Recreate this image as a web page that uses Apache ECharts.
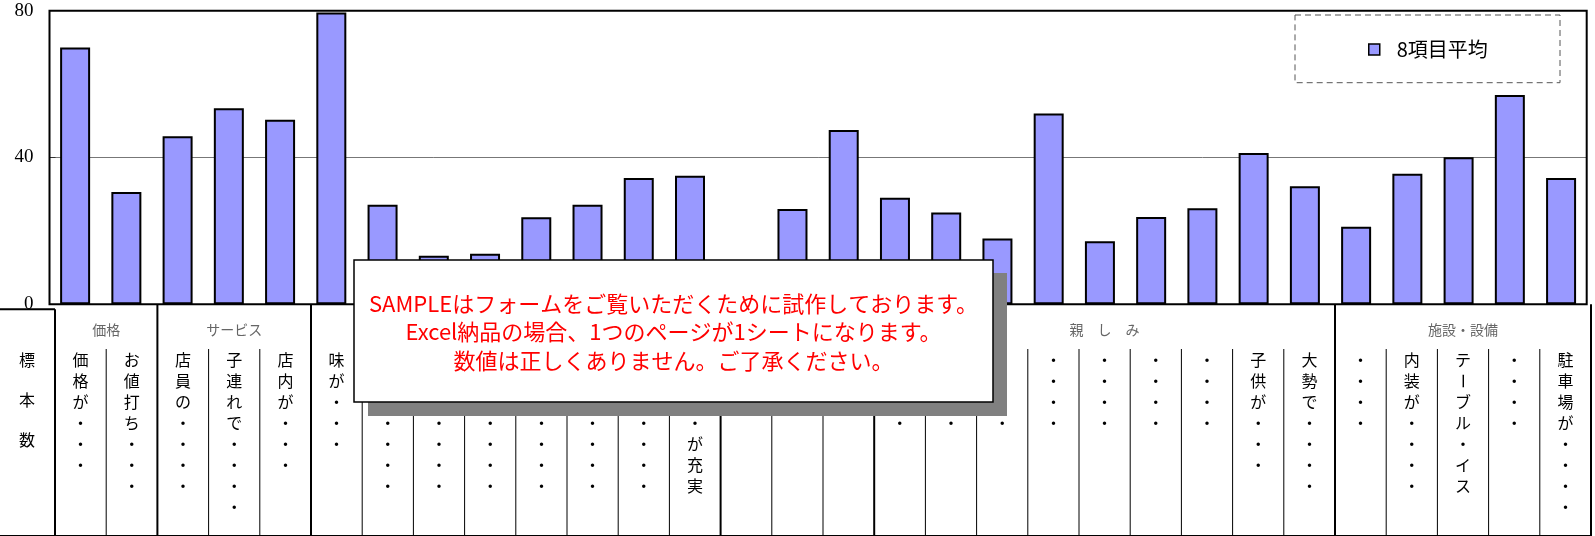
<!DOCTYPE html>
<html>
<head>
<meta charset="utf-8">
<script src="https://cdn.jsdelivr.net/npm/echarts@6/dist/echarts.min.js"></script>
<style>
html,body{margin:0;padding:0;background:#fff;}
#main{width:1595px;height:536px;}
</style>
</head>
<body>
<div id="main"></div>
<script>
// ---- data ----
const seriesName = '8項目平均';
const categories = [
  '価格が・・・', 'お値打ち・・・',
  '店員の・・・・', '子連れで・・・・', '店内が・・・',
  '味が・・・', '料理が・・・・', '品数が・・・・', '量が・・・・・', '鮮度が・・・・', '提供が・・・・', '飲物が・・・・', '飲み物・が充実',
  '雰囲気', '清潔感', '安心感',
  '・・・・', '・・・・', '・・・・', '・・・・', '・・・・', '・・・・', '・・・・', '子供が・・・', '大勢で・・・・',
  '・・・・', '内装が・・・・', 'テーブル・イス', '・・・・', '駐車場が・・・・'
];
const values = [
  70.0, 30.6,
  45.8, 53.4, 50.3,
  79.5, 27.1, 13.2, 13.8, 23.7, 27.1, 34.4, 35.0,
  10.0, 26.0, 47.5,
  29.0, 25.0, 17.9, 52.0, 17.2, 23.8, 26.2, 41.2, 32.2,
  21.1, 35.6, 40.1, 57.0, 34.4
];
const groupNames = ['価格', 'サービス', '料理・メニュー', '雰囲気', '親　し　み', '施設・設備'];
const groupSpans = [2, 3, 8, 3, 9, 5];
const yTicks = [0, 40, 80];
const sampleHeader = '標本数';
const noticeLines = [
  'SAMPLEはフォームをご覧いただくために試作しております。',
  'Excel納品の場合、1つのページが1シートになります。',
  '数値は正しくありません。ご了承ください。'
];

// ---- layout ----
const JP = '"Noto Sans CJK JP", "Noto Sans", sans-serif';
const tableLeft = 55, tableRight = 1591;
const colW = (tableRight - tableLeft) / categories.length;
const plotBottom = 304.3, tableTop = 309.3, subTop = 349, tableBottom = 535.5;

const graphics = [];
function line(x1, y1, x2, y2, w, color) {
  graphics.push({type: 'line', z: 50, shape: {x1, y1, x2, y2}, style: {stroke: color || '#000', lineWidth: w}});
}
function txt(x, y, text, size, color, extra) {
  graphics.push(Object.assign({
    type: 'text', z: 50, x: x, y: y,
    style: {x: 0, y: 0, text: text, font: size + 'px ' + JP, fill: color || '#000', align: 'center', verticalAlign: 'middle'}
  }, extra || {}));
}

// table frame
line(0, tableTop, tableLeft, tableTop, 2);
line(tableLeft, tableTop, tableLeft, 536, 2);
line(0, tableBottom, tableRight, tableBottom, 1.2);
const boundaries = new Set();
let cum = 0;
groupSpans.forEach((s, gi) => {
  const start = cum;
  cum += s;
  boundaries.add(cum);
  const x = tableLeft + cum * colW;
  line(x, plotBottom, x, 536, 2);
  txt(tableLeft + (start + s / 2) * colW, 330, groupNames[gi], 14, '#666');
});
for (let k = 1; k < categories.length; k++) {
  if (boundaries.has(k)) continue;
  const x = tableLeft + k * colW;
  line(x, subTop, x, 536, 1);
}
// header cell
[...sampleHeader].forEach((ch, i) => txt(27, 360 + i * 40, ch, 16, '#000'));
// vertical column labels
categories.forEach((lab, ci) => {
  const cx = tableLeft + (ci + 0.5) * colW;
  [...lab].forEach((ch, i) => {
    const extra = ch === 'ー' ? {rotation: -Math.PI / 2} : null;
    txt(cx, 360 + i * 21, ch, 16, '#000', extra);
  });
});

// legend frame (dashed)
graphics.push({type: 'rect', z: 50, shape: {x: 1295, y: 15, width: 265, height: 67.7},
  style: {fill: '#fff', stroke: '#555', lineWidth: 1, lineDash: [6, 4]}});

// notice overlay with shadow
graphics.push({type: 'rect', z: 200, shape: {x: 368, y: 273, width: 639, height: 143}, style: {fill: '#808080'}});
graphics.push({type: 'rect', z: 201, shape: {x: 354, y: 260, width: 639, height: 142},
  style: {fill: '#fff', stroke: '#000', lineWidth: 1.5}});
graphics.push({type: 'text', z: 202, x: 673.5, y: 332,
  style: {x: 0, y: 0, text: noticeLines.join('\n'), font: '22px ' + JP, fill: '#ff0000',
    align: 'center', verticalAlign: 'middle', lineHeight: 28.5}});

const chart = echarts.init(document.getElementById('main'), null, {renderer: 'canvas'});
chart.setOption({
  animation: false,
  backgroundColor: '#fff',
  grid: {left: 49.5, right: 8.3, top: 10.7, bottom: 231.7, show: true, borderColor: '#000', borderWidth: 2, backgroundColor: 'transparent', z: 2},
  legend: {
    data: [seriesName], left: 1368, top: 39.5, padding: 0, z: 60,
    icon: 'rect', itemWidth: 11, itemHeight: 11,
    itemStyle: {color: '#9999ff', borderColor: '#000', borderWidth: 1.5},
    textStyle: {fontFamily: JP, fontSize: 20, color: '#000', padding: [0, 0, 0, 12]}
  },
  xAxis: {
    type: 'category', data: categories,
    axisLine: {show: false}, axisTick: {show: false}, axisLabel: {show: false}, splitLine: {show: false}
  },
  yAxis: {
    type: 'value', min: yTicks[0], max: yTicks[yTicks.length - 1], interval: yTicks[1] - yTicks[0],
    axisLine: {show: false},
    axisTick: {show: true, inside: true, length: 6, lineStyle: {color: '#333'}},
    axisLabel: {fontFamily: '"Liberation Serif", "Times New Roman", serif', fontSize: 19, color: '#000', margin: 16},
    splitLine: {show: true, lineStyle: {color: '#777', width: 1}}
  },
  series: [{
    name: seriesName, type: 'bar', data: values, barWidth: 30, z: 5,
    itemStyle: {color: '#9999ff', borderColor: '#000', borderWidth: 2}
  }],
  graphic: {elements: graphics}
});
</script>
</body>
</html>
